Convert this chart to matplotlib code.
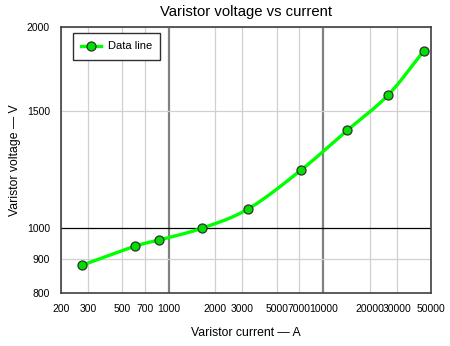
import matplotlib
matplotlib.use("Agg")
import matplotlib.pyplot as plt
import numpy as np
from matplotlib.ticker import FixedLocator, NullLocator, FixedFormatter

plt.rcParams['font.family'] = ['Liberation Sans', 'DejaVu Sans']

# medições do varistor
corrente = [273, 604, 861, 1638, 3273, 7164, 14322, 26300, 44800]
tensao = [880, 940, 960, 1000, 1069, 1221, 1401, 1581, 1841]

x_ticks = [200, 300, 500, 700, 1000, 2000, 3000, 5000, 7000, 10000, 20000, 30000, 50000]
y_ticks = [800, 900, 1000, 1500, 2000]


def curva_suave(xs, ys, n=20):
    """Catmull-Rom em coordenadas log, só para desenhar a linha suave."""
    lx = np.log10(xs)
    ly = np.log10(ys)
    px = np.concatenate([[2 * lx[0] - lx[1]], lx, [2 * lx[-1] - lx[-2]]])
    py = np.concatenate([[2 * ly[0] - ly[1]], ly, [2 * ly[-1] - ly[-2]]])
    out_x, out_y = [], []
    t = np.linspace(0, 1, n, endpoint=False)
    for i in range(1, len(px) - 2):
        for arr, out in ((px, out_x), (py, out_y)):
            p0, p1, p2, p3 = arr[i - 1], arr[i], arr[i + 1], arr[i + 2]
            out.extend(0.5 * (2 * p1 + (-p0 + p2) * t + (2 * p0 - 5 * p1 + 4 * p2 - p3) * t ** 2
                              + (-p0 + 3 * p1 - 3 * p2 + p3) * t ** 3))
    out_x.append(lx[-1])
    out_y.append(ly[-1])
    return 10 ** np.array(out_x), 10 ** np.array(out_y)


fig = plt.figure(figsize=(4.5, 3.46), dpi=100)
ax = fig.add_axes([61 / 450, 1 - 293 / 346, 370 / 450, 266 / 346])
ax.set_xscale("log")
ax.set_yscale("log")
ax.set_xlim(200, 50000)
ax.set_ylim(800, 2000)

# grade
for v in x_ticks:
    if v in (1000, 10000):
        ax.axvline(v, color="#808080", lw=1.6, zorder=1)
    else:
        ax.axvline(v, color="#d0d0d0", lw=0.9, zorder=1)
for v in y_ticks:
    if v == 1000:
        ax.axhline(v, color="black", lw=0.9, zorder=1)
    else:
        ax.axhline(v, color="#d0d0d0", lw=0.9, zorder=1)

sx, sy = curva_suave(corrente, tensao)
ax.plot(sx, sy, color="#00ff00", lw=2.4, zorder=3, solid_capstyle="round")
ax.plot(corrente, tensao, "o", ms=6.5, mfc="#00e000", mec="#303030", mew=0.9, zorder=4)

# entrada da legenda
ax.plot([], [], color="#00ff00", lw=2.4, marker="o", ms=6.5, mfc="#00e000",
        mec="#303030", mew=0.9, label="Data line")
leg = ax.legend(loc="upper left", bbox_to_anchor=(0.032, 0.977), borderaxespad=0,
                fontsize=8, fancybox=False, framealpha=1, edgecolor="#303030",
                borderpad=0.75, handlelength=1.8, handletextpad=0.6)
leg.get_frame().set_linewidth(1.0)

ax.xaxis.set_major_locator(FixedLocator(x_ticks))
ax.xaxis.set_major_formatter(FixedFormatter([str(v) for v in x_ticks]))
ax.xaxis.set_minor_locator(NullLocator())
ax.yaxis.set_major_locator(FixedLocator(y_ticks))
ax.yaxis.set_major_formatter(FixedFormatter([str(v) for v in y_ticks]))
ax.yaxis.set_minor_locator(NullLocator())
ax.tick_params(axis="both", length=0, labelsize=7.5, pad=8)

for s in ax.spines.values():
    s.set_color("#404040")
    s.set_linewidth(1.2)

ax.set_title("Varistor voltage vs current", fontsize=10.7, pad=8)
ax.set_xlabel("Varistor current — A", fontsize=8.8, labelpad=9)
ax.set_ylabel("Varistor voltage — V", fontsize=8.8, labelpad=4)

fig.savefig("out.png", dpi=100)
